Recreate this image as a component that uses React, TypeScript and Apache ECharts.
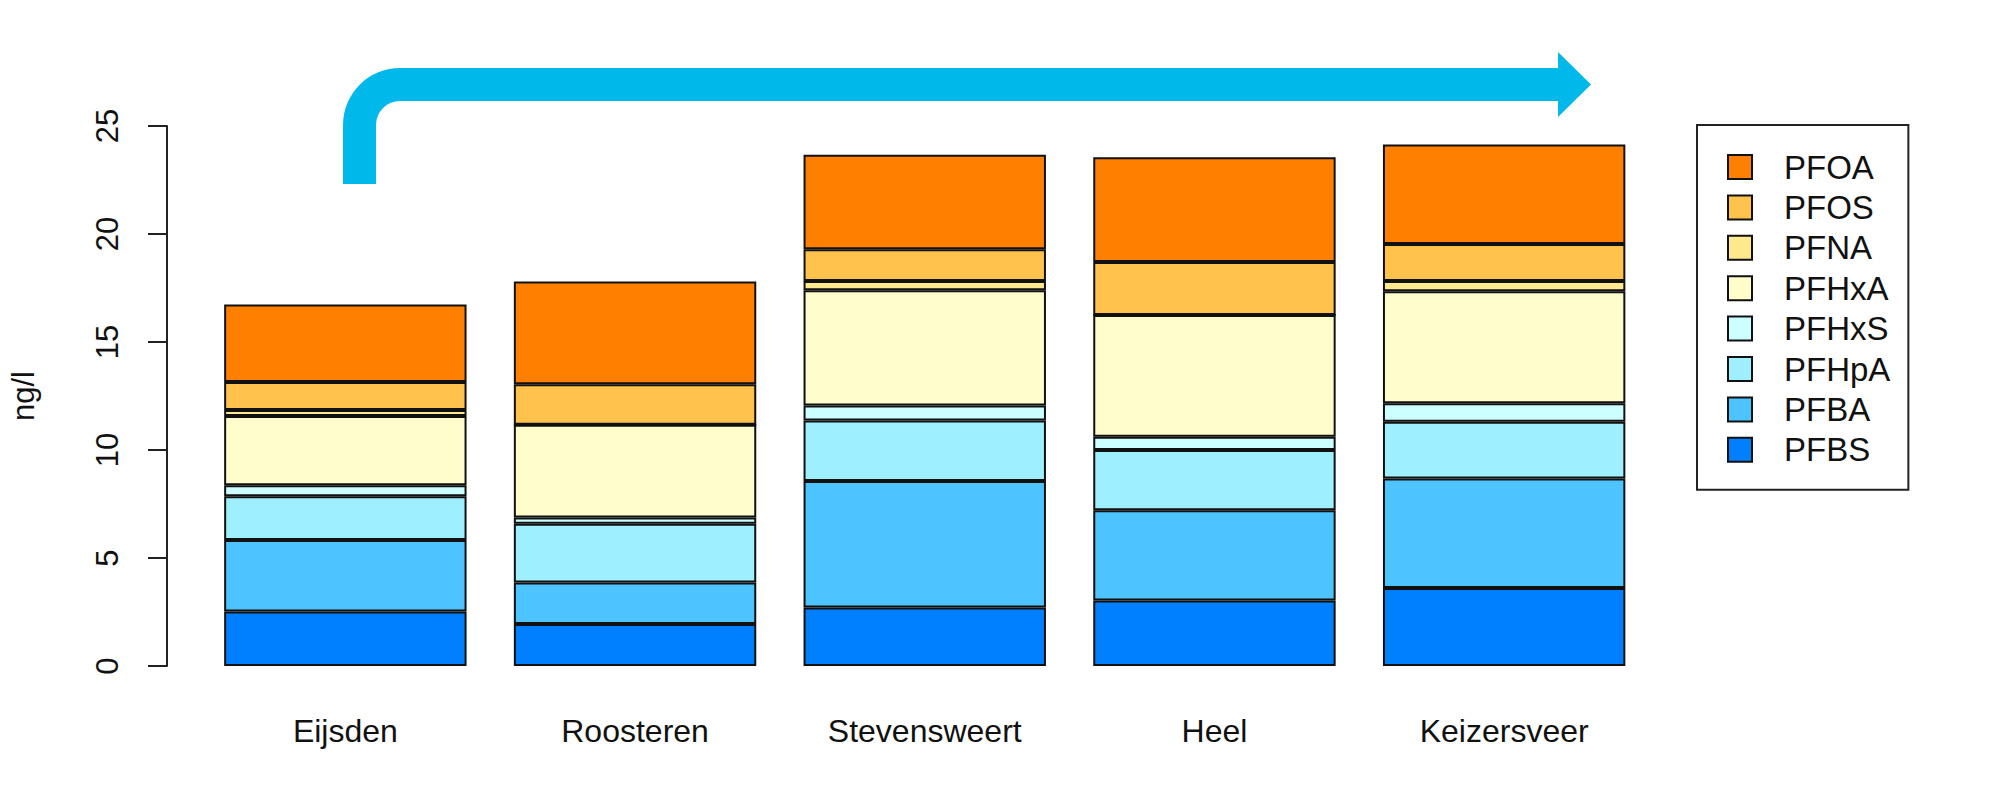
import React, { useEffect, useRef } from "react";
import * as echarts from "echarts";

const categories = ["Eijsden", "Roosteren", "Stevensweert", "Heel", "Keizersveer"];
const PFBS = [2.52, 1.94, 2.71, 3.03, 3.61];
const PFBA = [3.31, 1.93, 5.85, 4.18, 5.07];
const PFHpA = [2.03, 2.71, 2.8, 2.79, 2.63];
const PFHxS = [0.51, 0.3, 0.7, 0.61, 0.86];
const PFHxA = [3.2, 4.29, 5.34, 5.64, 5.18];
const PFNA = [0.28, 0, 0.42, 0, 0.47];
const PFOS = [1.3, 1.87, 1.47, 2.45, 1.72];
const PFOA = [3.59, 4.76, 4.38, 4.85, 4.6];

const seriesNames = ["PFBS", "PFBA", "PFHpA", "PFHxS", "PFHxA", "PFNA", "PFOS", "PFOA"];
const seriesData = [PFBS, PFBA, PFHpA, PFHxS, PFHxA, PFNA, PFOS, PFOA];
const seriesColors = ["#0080FF", "#4DC3FF", "#9EEFFF", "#CCFFFF", "#FFFDCC", "#FFE98F", "#FFC24D", "#FF8000"];
const legendOrder = ["PFOA", "PFOS", "PFNA", "PFHxA", "PFHxS", "PFHpA", "PFBA", "PFBS"];
const yTicks = { min: 0, max: 25, interval: 5 };
const yName = "ng/l";

const FONT = "'Liberation Sans', Arial, Helvetica, sans-serif";
const TEXT = "#111";

const arrowPath =
  "M343 184 L343 125 A57 57 0 0 1 400 68 L1558 68 L1558 52 L1591 84.5 L1558 117 L1558 101 L400 101 A24 24 0 0 0 376 125 L376 184 Z";

export default function App() {
  const ref = useRef<HTMLDivElement>(null);
  useEffect(() => {
    if (!ref.current) return;
    echarts.graphic.registerShape("bentArrow", echarts.graphic.extendPath(arrowPath, {}));
    const chart = echarts.init(ref.current, undefined, { renderer: "svg" });
    chart.setOption({
      animation: false,
      backgroundColor: "#ffffff",
      textStyle: { fontFamily: FONT },
      grid: { left: 199.5, top: 126, width: 1449.5, height: 540 },
      xAxis: {
        type: "category",
        data: categories,
        axisLine: { show: false },
        axisTick: { show: false },
        axisLabel: { color: TEXT, fontSize: 32, fontFamily: FONT, margin: 49 },
      },
      yAxis: {
        type: "value",
        min: yTicks.min,
        max: yTicks.max,
        interval: yTicks.interval,
        offset: 33.5,
        name: yName,
        nameLocation: "middle",
        nameRotate: 90,
        nameGap: 128,
        nameTextStyle: { color: TEXT, fontSize: 31, fontFamily: FONT },
        splitLine: { show: false },
        axisLine: { show: true, lineStyle: { color: "#222", width: 2 } },
        axisTick: { show: true, length: 19, lineStyle: { color: "#222", width: 2 } },
        axisLabel: { color: TEXT, fontSize: 31, fontFamily: FONT, rotate: 90, margin: 44 },
      },
      legend: {
        orient: "vertical",
        left: 1697,
        top: 125,
        data: legendOrder,
        borderColor: "#222",
        borderWidth: 2,
        padding: [22, 18, 20, 30],
        itemWidth: 24,
        itemHeight: 24,
        itemGap: 0.4,
        icon: "rect",
        itemStyle: { borderColor: "#111", borderWidth: 2 },
        textStyle: { color: TEXT, fontSize: 33, fontFamily: FONT, lineHeight: 40, padding: [0, 0, 0, 27] },
        selectedMode: false,
      },
      series: seriesNames.map((name, i) => ({
        name,
        type: "bar",
        stack: "total",
        barWidth: 242.4,
        data: seriesData[i],
        itemStyle: { color: seriesColors[i], borderColor: "#111", borderWidth: 2 },
      })),
      graphic: [
        {
          type: "bentArrow",
          x: 0,
          y: 0,
          silent: true,
          style: { fill: "#00B8EA" },
        },
      ],
    });
    return () => chart.dispose();
  }, []);
  return <div ref={ref} style={{ position: "absolute", left: 0, top: 0, width: 2000, height: 791 }} />;
}
